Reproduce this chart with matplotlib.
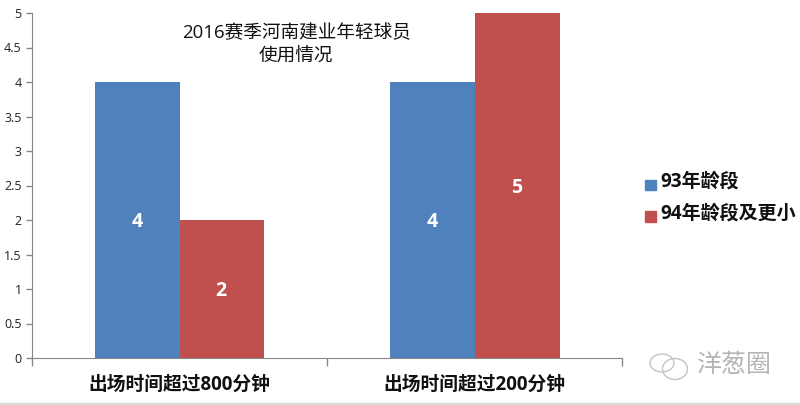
import numpy as np
import matplotlib
matplotlib.use('Agg')
import matplotlib.pyplot as plt
from matplotlib.patches import Ellipse, Rectangle

plt.rcParams['font.family'] = ['Noto Sans CJK SC', 'DejaVu Sans']

categories = ['出场时间超过800分钟', '出场时间超过200分钟']
series_names = ['93年龄段', '94年龄段及更小']
values_93 = [4, 4]
values_94 = [2, 5]
yticks = [0, 0.5, 1, 1.5, 2, 2.5, 3, 3.5, 4, 4.5, 5]
ytick_labels = ['0', '0.5', '1', '1.5', '2', '2.5', '3', '3.5', '4', '4.5', '5']
title_lines = ['2016赛季河南建业年轻球员', '使用情况']
watermark = '洋葱圈'

blue = '#4f81bd'
red = '#c0504d'
axis_gray = '#868686'
latin_cjk = ['Open Sans', 'Noto Sans CJK SC']

W, H = 800, 405
fig = plt.figure(figsize=(W / 100, H / 100), dpi=100)
ax = fig.add_axes([31.5 / W, 1 - 358 / H, (622 - 31.5) / W, (358 - 13) / H])

x = np.arange(len(categories))
bar_w = 0.2865
bars1 = ax.bar(x - bar_w / 2 + 0.002, values_93, bar_w, color=blue)
bars2 = ax.bar(x + bar_w / 2 + 0.002, values_94, bar_w, color=red)

for bars in (bars1, bars2):
    for b in bars:
        ax.annotate(str(int(b.get_height())), xy=(b.get_x() + b.get_width() / 2, b.get_height() / 2),
                    xytext=(-0.5, -1.5), textcoords='offset points',
                    ha='center', va='center', color='white', fontsize=14, fontweight='bold',
                    family=latin_cjk)

ax.set_xlim(-0.5, 1.5)
ax.set_ylim(0, 5)
ax.set_yticks(yticks)
ax.set_yticklabels(ytick_labels, fontsize=9, color='#222222', family=['Open Sans'])
ax.set_xticks([-0.5, 0.5, 1.5])
ax.set_xticklabels([])
ax.tick_params(axis='y', length=4, width=1, color=axis_gray, pad=3)
ax.tick_params(axis='x', length=6, width=1, color=axis_gray)
ax.spines['top'].set_visible(False)
ax.spines['right'].set_visible(False)
ax.spines['left'].set_color(axis_gray)
ax.spines['bottom'].set_color(axis_gray)

# category labels sit below the axis
for xi, cat in zip(x, categories):
    ax.annotate(cat, xy=(xi, 0), xycoords='data', xytext=(0, -19), textcoords='offset points',
                ha='center', va='center', fontsize=13.5, fontweight='bold', color='#111111',
                family=latin_cjk)

fig.text(297 / W, 1 - 33 / H, title_lines[0], ha='center', va='center', fontsize=13.4,
         color='#111111', family=latin_cjk)
fig.text(296 / W, 1 - 56 / H, title_lines[1], ha='center', va='center', fontsize=13.4,
         color='#111111', family=latin_cjk)

# legend by hand to match the placement
fig.add_artist(Rectangle((645 / W, 1 - 190.5 / H), 11 / W, 11 / H, color=blue, transform=fig.transFigure))
fig.add_artist(Rectangle((645 / W, 1 - 221.5 / H), 11 / W, 11 / H, color=red, transform=fig.transFigure))
fig.text(660 / W, 1 - 182 / H, series_names[0], ha='left', va='center', fontsize=13.7,
         fontweight='bold', color='#111111', family=latin_cjk)
fig.text(660 / W, 1 - 214 / H, series_names[1], ha='left', va='center', fontsize=13.7,
         fontweight='bold', color='#111111', family=latin_cjk)

# watermark
for cx, cy, ew, eh in [(662, 363, 24, 18), (675, 369, 25, 21)]:
    fig.add_artist(Ellipse((cx / W, 1 - cy / H), ew / W, eh / H, fill=False, ec='#c4c4c4', lw=1,
                           transform=fig.transFigure))
fig.text(697 / W, 1 - 365 / H, watermark, ha='left', va='center', fontsize=18, color='#b5b5b5')

# screenshot edge along the bottom
fig.add_artist(Rectangle((0, 0), 1, 2 / H, color='#d5dcdc', transform=fig.transFigure))

fig.savefig('out.png', dpi=100)
